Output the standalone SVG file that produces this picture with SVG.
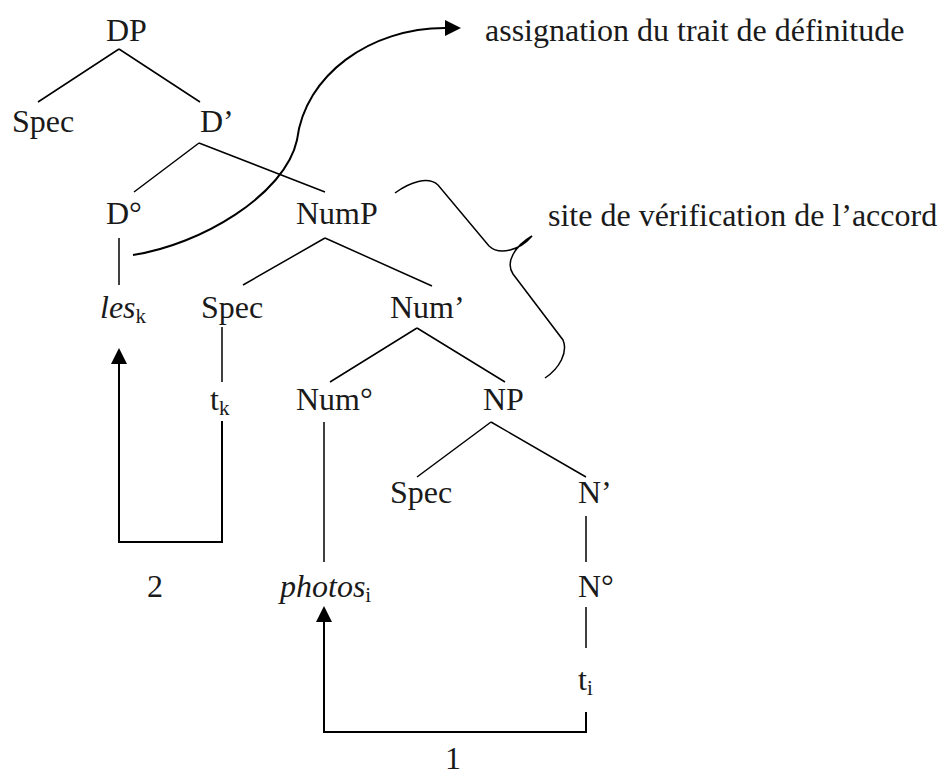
<svg xmlns="http://www.w3.org/2000/svg" width="939" height="778" viewBox="0 0 939 778">
<style>
text{font-family:"Liberation Serif","Times New Roman",serif;font-size:32px;fill:#1a1a1a}
.it{font-style:italic}
.sub{font-size:21px;font-style:normal}
.tree{stroke:#000;stroke-width:1.5;fill:none}
.arr{stroke:#000;stroke-width:2;fill:none}
</style>
<defs>
<marker id="ah" viewBox="0 0 16 16" refX="0" refY="8" markerWidth="16" markerHeight="16" markerUnits="userSpaceOnUse" orient="auto">
<path d="M0,0 L16,8 L0,16 z" fill="#000"/>
</marker>
</defs>
<rect width="939" height="778" fill="#fff"/>
<g id="connectors">
<path class="tree" d="M119,49 L38,102 M119,49 L200,102"/>
<path class="tree" d="M199,143 L134,192 M199,143 L325,192"/>
<path class="tree" d="M119,238 L119,285"/>
<path class="tree" d="M325,238 L243,285 M325,238 L432,286"/>
<path class="tree" d="M222,327 L222,382"/>
<path class="tree" d="M417,328 L330,382 M417,328 L505,382"/>
<path class="tree" d="M324,422 L324,562"/>
<path class="tree" d="M491,422 L417,477 M491,422 L586,477"/>
<path class="tree" d="M586,516 L586,562"/>
<path class="tree" d="M586,607 L586,648"/>
<path class="arr" d="M222,421 L222,542 L119,542 L119,364" marker-end="url(#ah)"/>
<path class="arr" d="M586,712 L586,732 L324,732 L324,622" marker-end="url(#ah)"/>
<path class="arr" stroke-width="2.3" d="M133,255 C200,245 285,195 297,140 C305,75 370,28 445,28" marker-end="url(#ah)"/>
<path class="tree" stroke-width="1.6" d="M395,193 C410,182 428,176 438,185 L489,246 C500,256 520,250 532,236 C515,246 505,262 513,274 L563,340 C568,352 560,368 545,378"/>
</g>
<g id="DP"><text x="106" y="41">DP</text></g>
<g id="Spec1"><text x="12" y="132">Spec</text></g>
<g id="Dbar"><text x="200" y="132">D’</text></g>
<g id="D0"><text x="106" y="224">D°</text></g>
<g id="NumP"><text x="296" y="224">NumP</text></g>
<g id="les"><text x="100" y="318"><tspan class="it">les</tspan><tspan class="sub" dy="5">k</tspan></text></g>
<g id="Spec2"><text x="201" y="318">Spec</text></g>
<g id="Numbar"><text x="390" y="318">Num’</text></g>
<g id="tk"><text x="210" y="410">t<tspan class="sub" dy="5">k</tspan></text></g>
<g id="Num0"><text x="296" y="410">Num°</text></g>
<g id="NP"><text x="483" y="410">NP</text></g>
<g id="Spec3"><text x="390" y="503">Spec</text></g>
<g id="Nbar"><text x="578" y="503">N’</text></g>
<g id="label2"><text x="155" y="597" text-anchor="middle">2</text></g>
<g id="photos"><text x="280" y="597"><tspan class="it">photos</tspan><tspan class="sub" dy="5">i</tspan></text></g>
<g id="N0"><text x="578" y="597">N°</text></g>
<g id="ti"><text x="578" y="690">t<tspan class="sub" dy="5">i</tspan></text></g>
<g id="label1"><text x="453" y="769" text-anchor="middle">1</text></g>
<g id="def"><text x="485" y="41">assignation du trait de définitude</text></g>
<g id="accord"><text x="548" y="226">site de vérification de l’accord</text></g>
</svg>
